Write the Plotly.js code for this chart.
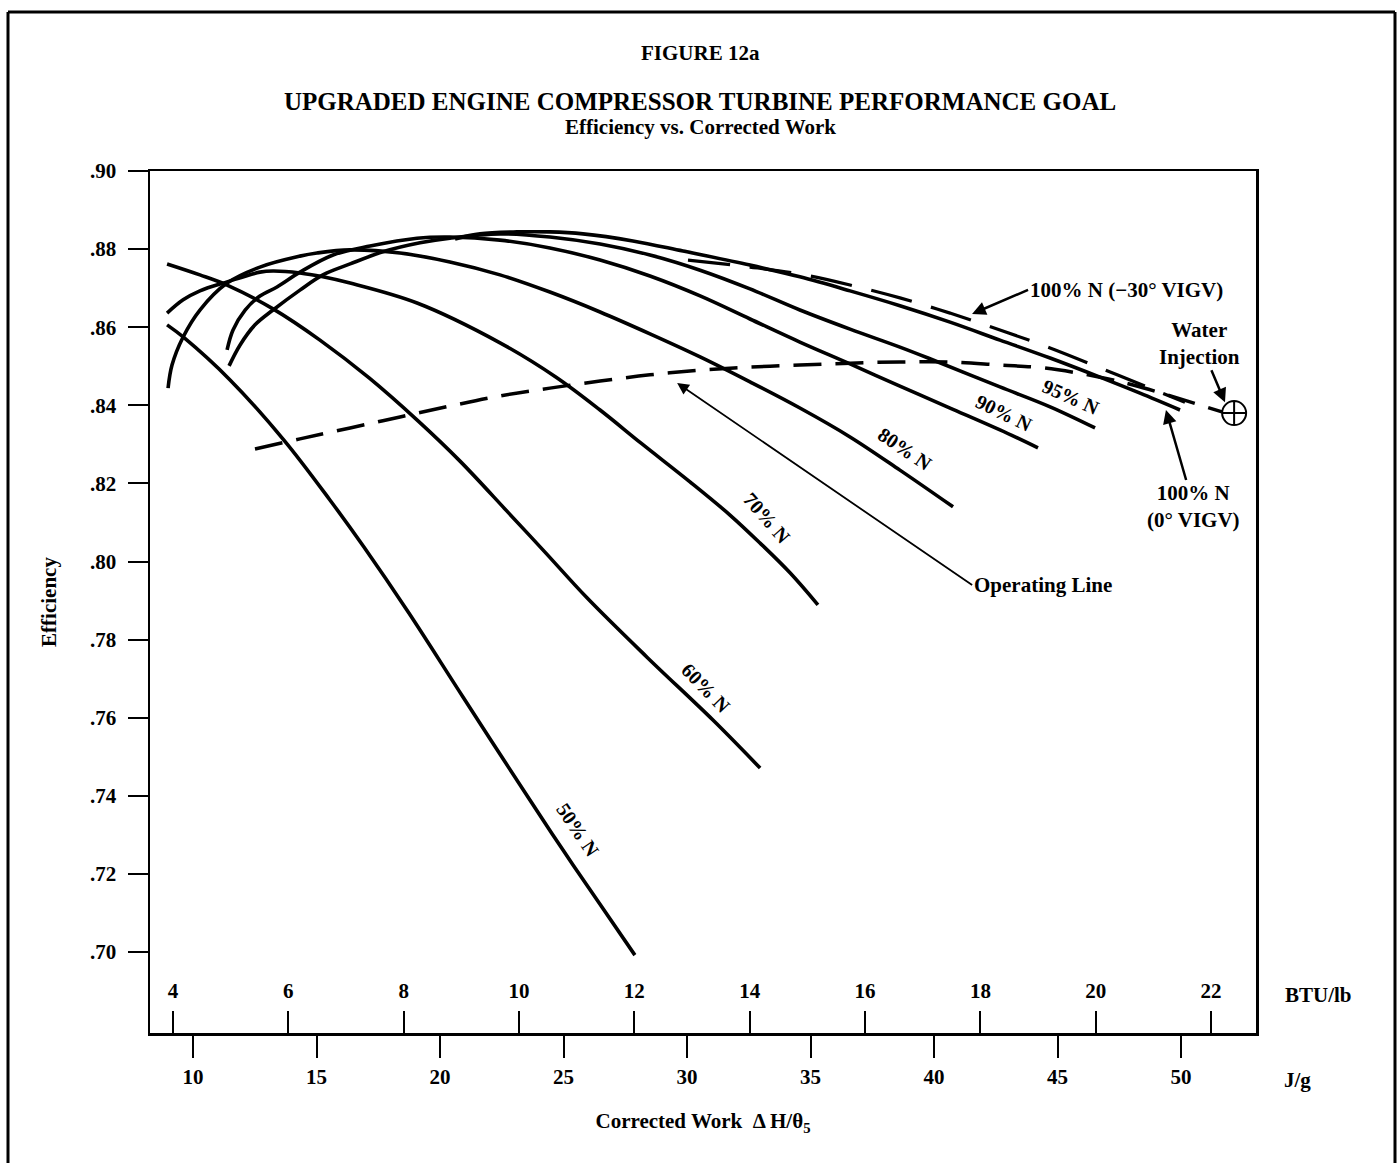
<!DOCTYPE html>
<html><head><meta charset="utf-8">
<script src="https://cdn.plot.ly/plotly-3.0.1.min.js"></script>
<style>html,body{margin:0;padding:0;background:#fff}#chart{width:1400px;height:1163px}</style>
</head><body><div id="chart"></div>
<script>
// Corrected work (J/g) and efficiency for each speed line
const n50X = [8.95, 9.60, 11.50, 13.68, 15.55, 16.92, 18.74, 20.93, 23.64, 24.98, 26.36, 27.89];
const n50Y = [0.8606, 0.8575, 0.8465, 0.8311, 0.8157, 0.8037, 0.7868, 0.7653, 0.7389, 0.7261, 0.7133, 0.6992];

const n60X = [8.95, 10.28, 11.38, 13.24, 15.14, 17.13, 19.11, 20.81, 22.71, 24.25, 25.95, 28.38, 31.05, 32.96];
const n60Y = [0.8762, 0.8734, 0.8708, 0.8647, 0.8567, 0.8470, 0.8360, 0.8257, 0.8129, 0.8024, 0.7907, 0.7755, 0.7594, 0.7471];

const n70X = [8.95, 9.60, 10.28, 11.38, 12.71, 13.24, 14.33, 15.26, 16.36, 19.07, 22.43, 24.70, 26.48, 28.14, 30.12, 31.74, 32.96, 34.17, 35.30];
const n70Y = [0.8636, 0.8670, 0.8693, 0.8716, 0.8741, 0.8744, 0.8739, 0.8729, 0.8713, 0.8662, 0.8560, 0.8472, 0.8388, 0.8303, 0.8204, 0.8119, 0.8047, 0.7971, 0.7889];

const n80X = [8.99, 9.15, 9.60, 10.28, 11.38, 12.71, 14.33, 15.02, 16.36, 18.38, 20.40, 22.43, 24.45, 26.48, 28.50, 30.53, 32.55, 34.57, 36.60, 38.62, 40.77];
const n80Y = [0.8444, 0.8503, 0.8575, 0.8644, 0.8713, 0.8754, 0.8782, 0.8790, 0.8798, 0.8790, 0.8767, 0.8734, 0.8690, 0.8639, 0.8583, 0.8524, 0.8460, 0.8393, 0.8319, 0.8234, 0.8140];

const n90X = [11.38, 11.62, 12.11, 12.71, 13.40, 14.33, 15.67, 17.17, 19.07, 20.40, 22.43, 24.45, 26.48, 28.50, 30.53, 32.55, 34.57, 36.60, 38.62, 40.65, 42.67, 44.21];
const n90Y = [0.8542, 0.8593, 0.8644, 0.8680, 0.8703, 0.8741, 0.8785, 0.8808, 0.8828, 0.8831, 0.8823, 0.8803, 0.8772, 0.8731, 0.8680, 0.8621, 0.8562, 0.8506, 0.8449, 0.8393, 0.8337, 0.8291];

const n95X = [11.46, 11.90, 12.51, 13.24, 14.33, 15.26, 16.36, 17.69, 19.19, 20.40, 22.43, 24.45, 26.48, 28.50, 30.53, 32.55, 34.57, 36.60, 38.62, 39.96, 42.67, 44.70, 46.52];
const n95Y = [0.8501, 0.8554, 0.8606, 0.8644, 0.8695, 0.8734, 0.8762, 0.8793, 0.8816, 0.8828, 0.8839, 0.8831, 0.8813, 0.8785, 0.8746, 0.8698, 0.8644, 0.8595, 0.8549, 0.8516, 0.8447, 0.8396, 0.8342];

const n100X = [20.61, 21.62, 23.12, 24.45, 25.79, 27.81, 29.84, 32.55, 34.57, 36.60, 38.62, 40.65, 42.67, 44.70, 46.72, 48.34, 49.96];
const n100Y = [0.8826, 0.8839, 0.8844, 0.8844, 0.8839, 0.8821, 0.8795, 0.8759, 0.8729, 0.8693, 0.8655, 0.8613, 0.8567, 0.8521, 0.8472, 0.8431, 0.8388];

const vigvX = [30.04, 32.55, 34.57, 36.60, 38.62, 40.65, 42.67, 44.70, 46.72, 48.74, 50.16];
const vigvY = [0.8772, 0.8754, 0.8736, 0.8708, 0.8675, 0.8636, 0.8593, 0.8547, 0.8496, 0.8444, 0.8408];

const opX = [12.51, 14.33, 16.36, 18.38, 20.40, 22.43, 24.45, 26.48, 28.50, 30.53, 32.55, 34.57, 36.60, 38.62, 40.65, 42.67, 44.41, 46.72, 48.06, 49.84, 51.66];
const opY = [0.8288, 0.8314, 0.8342, 0.8370, 0.8398, 0.8424, 0.8444, 0.8462, 0.8478, 0.8490, 0.8498, 0.8503, 0.8508, 0.8511, 0.8511, 0.8503, 0.8496, 0.8472, 0.8452, 0.8419, 0.8383];

const waterX = [52.15];
const waterY = [0.8380];

// Axis ticks
const effTicks = [0.70, 0.72, 0.74, 0.76, 0.78, 0.80, 0.82, 0.84, 0.86, 0.88, 0.90];
const effTickText = ['.70', '.72', '.74', '.76', '.78', '.80', '.82', '.84', '.86', '.88', '.90'];
const jgTicks = [10, 15, 20, 25, 30, 35, 40, 45, 50];
const btuTicks = [4, 6, 8, 10, 12, 14, 16, 18, 20, 22];

const FONT = 'Liberation Serif, Times New Roman, serif';
const solid = {color: '#000', width: 3.6, shape: 'spline', smoothing: 1};

function speedLine(x, y, name) {
  return {x: x, y: y, name: name, mode: 'lines', line: solid, hoverinfo: 'name'};
}

const traces = [
  speedLine(n50X, n50Y, '50% N'),
  speedLine(n60X, n60Y, '60% N'),
  speedLine(n70X, n70Y, '70% N'),
  speedLine(n80X, n80Y, '80% N'),
  speedLine(n90X, n90Y, '90% N'),
  speedLine(n95X, n95Y, '95% N'),
  speedLine(n100X, n100Y, '100% N (0° VIGV)'),
  {x: vigvX, y: vigvY, name: '100% N (−30° VIGV)', mode: 'lines',
   line: {color: '#000', width: 3.2, dash: '42px,20px', shape: 'spline', smoothing: 1}},
  {x: opX, y: opY, name: 'Operating Line', mode: 'lines',
   line: {color: '#000', width: 3.5, dash: '28px,14px', shape: 'spline', smoothing: 1}},
  {x: waterX, y: waterY, name: 'Water Injection', mode: 'markers',
   marker: {symbol: 'circle-cross-open', size: 24, color: '#000', line: {width: 2, color: '#000'}}},
  {x: [], y: [], xaxis: 'x2', mode: 'lines', showlegend: false, hoverinfo: 'skip'}
];

function px2x(px) { return (px - 150) / 1106; }
function py2y(py) { return (1033 - py) / 862; }

const lbl = {size: 21, weight: 'bold', family: FONT, color: '#000'};
const spd = {size: 20, weight: 'bold', family: FONT, color: '#000'};
function txt(px, py, text, extra) {
  return Object.assign({xref: 'paper', yref: 'paper', x: px2x(px), y: py2y(py), text: text,
    showarrow: false, xanchor: 'center', yanchor: 'middle', font: lbl}, extra || {});
}
const arrowStyle = {showarrow: true, arrowhead: 2, arrowsize: 1.1, arrowwidth: 2.5, arrowcolor: '#000', standoff: 0, font: lbl};

const annotations = [
  txt(700, 53, 'FIGURE 12a', {font: {size: 21, weight: 'bold', family: FONT}}),
  txt(700, 127, 'Efficiency vs. Corrected Work', {font: {size: 21, weight: 'bold', family: FONT}}),
  // callouts with arrows
  Object.assign({x: 41.54, y: 0.8634, ax: 56, ay: -24, xanchor: 'left', yanchor: 'middle', text: '100% N (−30° VIGV)'}, arrowStyle),
  Object.assign({x: 51.78, y: 0.8408, ax: -25, ay: -59, xanchor: 'center', yanchor: 'middle', text: 'Water<br>Injection'}, arrowStyle),
  Object.assign({x: 49.39, y: 0.8388, ax: 28, ay: 97, xanchor: 'center', yanchor: 'middle', text: '100% N<br>(0° VIGV)'}, arrowStyle),
  Object.assign({x: 29.60, y: 0.8457, ax: 295, ay: 202, xanchor: 'left', yanchor: 'middle', text: 'Operating Line'}, arrowStyle, {arrowwidth: 1.8, arrowsize: 1.3}),
  // speed labels
  txt(578, 830, '50% N', {textangle: 56, font: spd}),
  txt(706, 688, '60% N', {textangle: 46, font: spd}),
  txt(767, 518, '70% N', {textangle: 49, font: spd}),
  txt(905, 449, '80% N', {textangle: 34, font: spd}),
  txt(1004, 413, '90% N', {textangle: 26, font: spd}),
  txt(1071, 397, '95% N', {textangle: 24, font: spd}),
  // unit labels
  txt(1318, 995, 'BTU/lb'),
  txt(1297, 1080, 'J/g')
];

const frameLine = {type: 'line', xref: 'paper', yref: 'paper', line: {color: '#000', width: 3}};
const shapes = [
  Object.assign({}, frameLine, {x0: px2x(8), x1: px2x(8), y0: py2y(1163), y1: py2y(12)}),
  Object.assign({}, frameLine, {x0: px2x(8), x1: px2x(1395), y0: py2y(12), y1: py2y(12)}),
  Object.assign({}, frameLine, {x0: px2x(1395), x1: px2x(1395), y0: py2y(12), y1: py2y(1163)})
];

const layout = {
  width: 1400, height: 1163,
  margin: {l: 150, r: 144, t: 171, b: 130},
  paper_bgcolor: '#fff', plot_bgcolor: '#fff',
  showlegend: false,
  font: {family: FONT, color: '#000', size: 21, weight: 'bold'},
  title: {text: 'UPGRADED ENGINE COMPRESSOR TURBINE PERFORMANCE GOAL',
          font: {family: FONT, size: 25, weight: 'bold', color: '#000'},
          xref: 'container', x: 0.5, xanchor: 'center',
          yref: 'container', y: 1 - 101 / 1163, yanchor: 'middle'},
  xaxis: {range: [8.259, 53.036], showline: true, linewidth: 2.5, linecolor: '#000', mirror: true,
          ticks: 'outside', ticklen: 22, tickwidth: 2, tickcolor: '#000', ticklabelstandoff: 1,
          tickvals: jgTicks, showgrid: false, zeroline: false,
          tickfont: {family: FONT, size: 21, weight: 'bold'},
          title: {text: 'Corrected Work  Δ H/θ<sub>5</sub>', standoff: 26, font: {family: FONT, size: 21, weight: 'bold'}},
          automargin: false, fixedrange: true},
  xaxis2: {overlaying: 'x', side: 'top', anchor: 'free', position: 0,
           range: [3.601, 22.779], ticks: 'outside', ticklen: 22, tickwidth: 2, tickcolor: '#000', ticklabelstandoff: 5,
           tickvals: btuTicks, showline: false, showgrid: false, zeroline: false,
           tickfont: {family: FONT, size: 21, weight: 'bold'}, automargin: false, fixedrange: true},
  yaxis: {range: [0.67926, 0.90], showline: true, linewidth: 2.5, linecolor: '#000', mirror: true,
          ticks: 'outside', ticklen: 20, tickwidth: 2, tickcolor: '#000', ticklabelstandoff: 7,
          tickvals: effTicks, ticktext: effTickText, showgrid: false, zeroline: false,
          tickfont: {family: FONT, size: 21, weight: 'bold'},
          title: {text: 'Efficiency', standoff: 28, font: {family: FONT, size: 21, weight: 'bold'}},
          automargin: false, fixedrange: true},
  annotations: annotations,
  shapes: shapes
};

Plotly.newPlot('chart', traces, layout, {displayModeBar: false, staticPlot: true});
</script>
</body></html>
